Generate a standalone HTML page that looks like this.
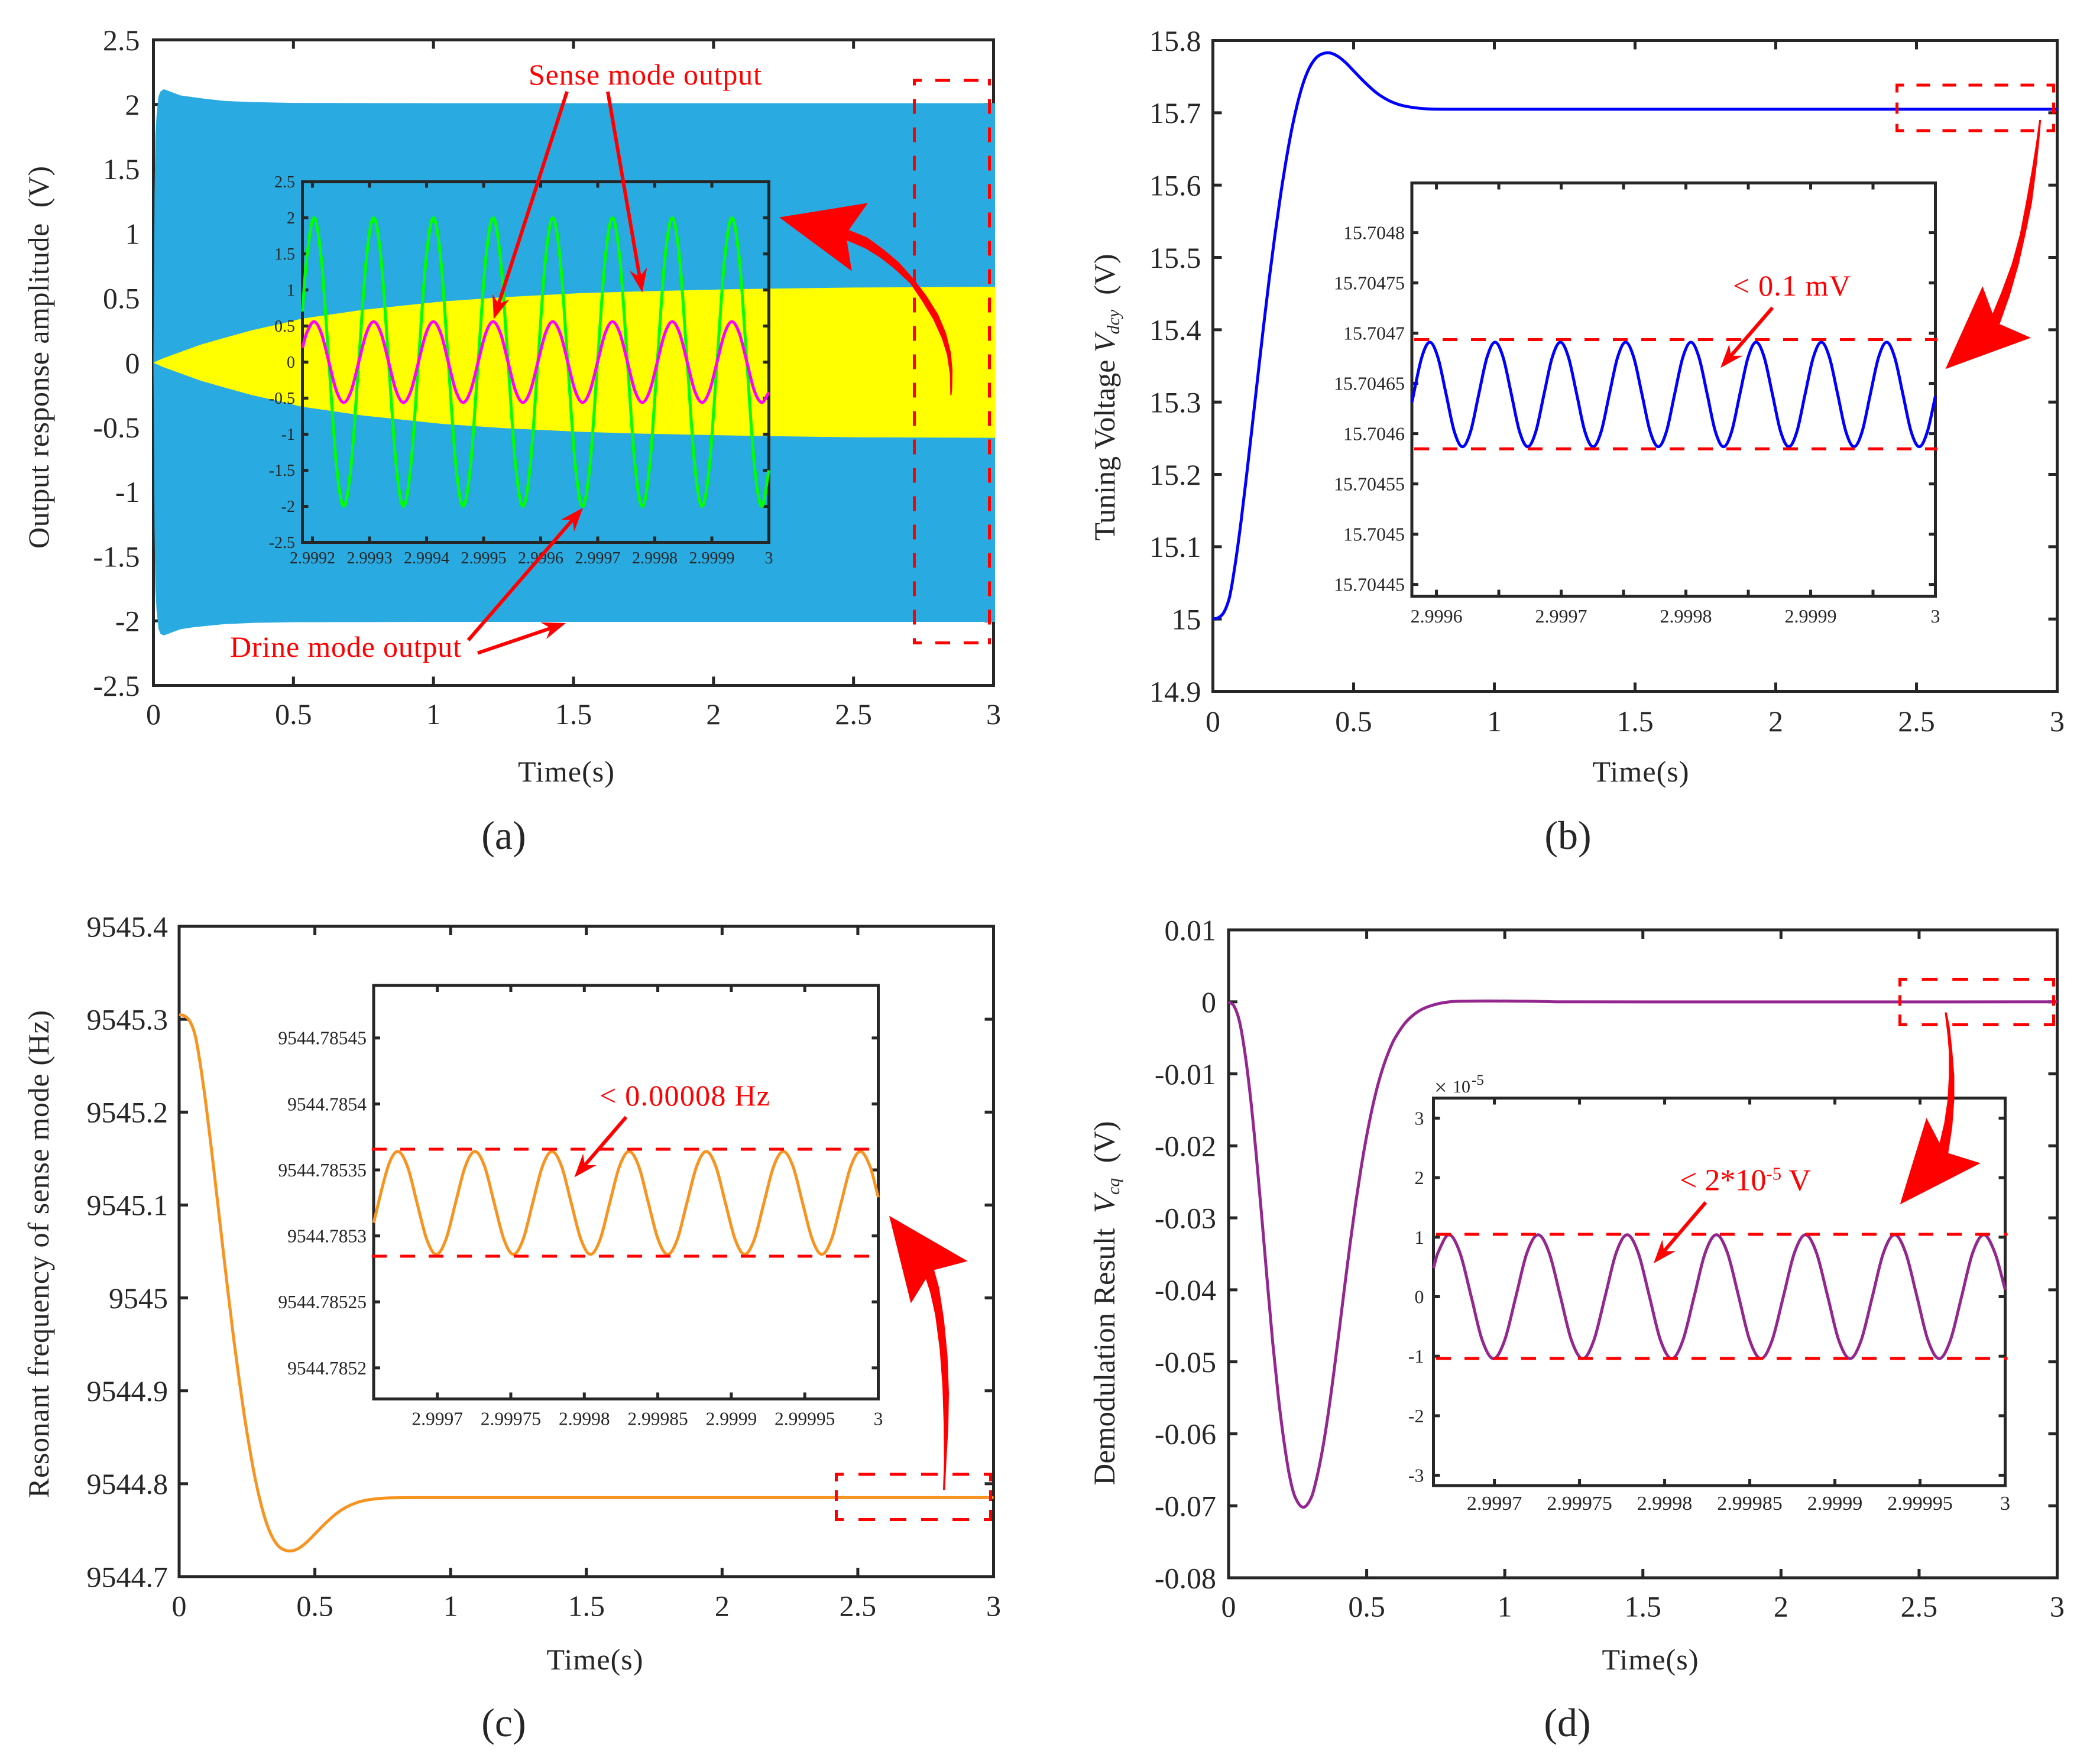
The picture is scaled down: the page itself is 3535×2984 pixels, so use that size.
<!DOCTYPE html>
<html lang="en">
<head>
<meta charset="utf-8">
<title>Simulation results of tuning and demodulation</title>
<style>
html,body{margin:0;padding:0;background:#fff;}
svg{display:block;font-family:"Liberation Serif","Times New Roman",serif;}
text{white-space:pre;}
.ttl{font-size:50px;fill:#262626;}
.red{font-size:50px;fill:#ff0000;}
.cap{font-size:68px;fill:#262626;text-anchor:middle;}
.dash{stroke:#ff0000;stroke-width:5;fill:none;}
.fat{fill:#ff0000;stroke:none;}
</style>
</head>
<body>
<svg id="fig" xmlns="http://www.w3.org/2000/svg" width="3535" height="2984" viewBox="0 0 3535 2984">
  <rect x="0" y="0" width="3535" height="2984" fill="#fff"/>

  <!-- PANEL A -->
  <g>
    <g id="a-main"></g>
    <g>
      <line class="dash" x1="1546.5" y1="133.5" x2="1546.5" y2="1090" stroke-dasharray="25 23" stroke-dashoffset="14"/>
      <line class="dash" x1="1673.5" y1="133.5" x2="1673.5" y2="1090" stroke-dasharray="25 23" stroke-dashoffset="14"/>
      <line class="dash" x1="1544" y1="136" x2="1676" y2="136" stroke-dasharray="25 23" stroke-dashoffset="10"/>
      <line class="dash" x1="1544" y1="1087.5" x2="1676" y2="1087.5" stroke-dasharray="25 23" stroke-dashoffset="10"/>
    </g>
    <g id="a-inset"></g>
    <text class="ttl" x="957.5" y="1322" text-anchor="middle" textLength="163">Time(s)</text>
    <text class="ttl" transform="translate(82 604.5) rotate(-90)" text-anchor="middle" textLength="647">Output response amplitude  (V)</text>
    <text class="red" x="894" y="143" textLength="394">Sense mode output</text>
    <text class="red" x="389" y="1111" textLength="391">Drine mode output</text>
    <polygon class="fat" transform="translate(1250 260) scale(.33333)" points="204,323 654,250 557,387 650,425 735,487 810,550 890,640 950,720 1010,815 1050,910 1075,1010 1083,1100 1081,1200 1078,1225 1072,1225 1070,1120 1055,1020 1030,940 985,840 930,750 870,660 790,585 720,530 640,480 547,440 572,596"/>
    <text class="cap" x="852" y="1436">(a)</text>
  </g>

  <!-- PANEL B -->
  <g>
    <g id="b-main"></g>
    <g>
      <line class="dash" x1="3208.5" y1="141.5" x2="3208.5" y2="223.5" stroke-dasharray="19 17" stroke-dashoffset="4"/>
      <line class="dash" x1="3473.5" y1="141.5" x2="3473.5" y2="223.5" stroke-dasharray="19 17" stroke-dashoffset="4"/>
      <line class="dash" x1="3206" y1="144" x2="3476" y2="144" stroke-dasharray="23 21" stroke-dashoffset="8.5"/>
      <line class="dash" x1="3206" y1="221" x2="3476" y2="221" stroke-dasharray="23 21" stroke-dashoffset="8.5"/>
    </g>
    <g id="b-inset"></g>
    <line class="dash" x1="2388" y1="574.5" x2="3277" y2="574.5" stroke-dasharray="25 23" stroke-dashoffset="44"/>
    <line class="dash" x1="2388" y1="759.3" x2="3277" y2="759.3" stroke-dasharray="25 23" stroke-dashoffset="44"/>
    <text class="ttl" x="2775" y="1322" text-anchor="middle" textLength="163">Time(s)</text>
    <text class="ttl" transform="translate(1885 672) rotate(-90)" text-anchor="middle">Tuning Voltage <tspan font-style="italic">V</tspan><tspan font-style="italic" font-size="30" dy="8">dcy</tspan><tspan dy="-8">  (V)</tspan></text>
    <text class="red" x="2931" y="500" textLength="199">&lt; 0.1 mV</text>
    <polygon class="fat" transform="translate(3000 100) scale(.3413 .35714)" points="851,1468 1035,1076 1085,1205 1130,1100 1180,970 1220,830 1250,680 1280,520 1300,400 1316,288 1325,288 1315,400 1300,530 1280,680 1250,820 1215,970 1170,1120 1120,1255 1275,1320"/>
    <text class="cap" x="2652" y="1436">(b)</text>
  </g>

  <!-- PANEL C -->
  <g>
    <g id="c-main"></g>
    <g>
      <line class="dash" x1="1414.5" y1="2491.5" x2="1414.5" y2="2573" stroke-dasharray="18 15" stroke-dashoffset="3.5"/>
      <line class="dash" x1="1675.5" y1="2491.5" x2="1675.5" y2="2573" stroke-dasharray="18 15" stroke-dashoffset="3.5"/>
      <line class="dash" x1="1412" y1="2494" x2="1678" y2="2494" stroke-dasharray="28 25" stroke-dashoffset="13"/>
      <line class="dash" x1="1412" y1="2570.5" x2="1678" y2="2570.5" stroke-dasharray="28 25" stroke-dashoffset="13"/>
    </g>
    <g id="c-inset"></g>
    <line class="dash" x1="629" y1="1944" x2="1478" y2="1944" stroke-dasharray="25 23"/>
    <line class="dash" x1="629" y1="2125" x2="1472" y2="2125" stroke-dasharray="25 23"/>
    <text class="ttl" x="1006" y="2824" text-anchor="middle" textLength="163">Time(s)</text>
    <text class="ttl" transform="translate(82 2121.5) rotate(-90)" text-anchor="middle" textLength="825">Resonant frequency of sense mode (Hz)</text>
    <text class="red" x="1014" y="1870" textLength="288">&lt; 0.00008 Hz</text>
    <polygon class="fat" transform="translate(1380 1950) scale(.33333 .4149)" points="372,257 770,442 600,478 625,550 650,680 668,830 675,980 672,1120 662,1260 655,1375 645,1375 650,1260 648,1100 642,950 628,800 605,660 580,570 558,515 482,614"/>
    <text class="cap" x="852" y="2937">(c)</text>
  </g>

  <!-- PANEL D -->
  <g>
    <g id="d-main"></g>
    <g>
      <line class="dash" x1="3213.5" y1="1654" x2="3213.5" y2="1736" stroke-dasharray="18 14.7" stroke-dashoffset="3.3"/>
      <line class="dash" x1="3473.5" y1="1654" x2="3473.5" y2="1736" stroke-dasharray="18 14.7" stroke-dashoffset="3.3"/>
      <line class="dash" x1="3211" y1="1656.5" x2="3476" y2="1656.5" stroke-dasharray="26.6 25" stroke-dashoffset="12"/>
      <line class="dash" x1="3211" y1="1733.5" x2="3476" y2="1733.5" stroke-dasharray="26.6 25" stroke-dashoffset="12"/>
    </g>
    <g id="d-inset"></g>
    <line class="dash" x1="2429" y1="2088" x2="3395.5" y2="2088" stroke-dasharray="25 23"/>
    <line class="dash" x1="2429" y1="2298" x2="3395.5" y2="2298" stroke-dasharray="25 23"/>
    <g fill="#262626">
      <text x="2426" y="1852" font-size="38">×</text>
      <text x="2457" y="1848" font-size="30">10</text>
      <text x="2489" y="1835" font-size="25">-5</text>
    </g>
    <text class="ttl" x="2791" y="2824" text-anchor="middle" textLength="163">Time(s)</text>
    <text class="ttl" style="font-size:51px" transform="translate(1885 2204.5) rotate(-90)" text-anchor="middle">Demodulation Result  <tspan font-style="italic">V</tspan><tspan font-style="italic" font-size="30" dy="8">cq</tspan><tspan dy="-8">  (V)</tspan></text>
    <text class="red" style="font-size:52px" x="2841" y="2013.5">&lt; 2*10<tspan font-size="31" dy="-18">-5</tspan><tspan dy="18"> V</tspan></text>
    <polygon class="fat" transform="translate(3000 1620) scale(.3413 .33333)" points="626,1252 757,813 822,940 845,840 862,720 868,600 868,480 862,400 848,278 858,278 872,350 885,470 895,600 895,720 885,860 865,992 1025,1043"/>
    <text class="cap" x="2651" y="2937">(d)</text>
  </g>

  <g id="thin-arrows"></g>
</svg>

<script>
/* ---------- shared axis data ---------- */
const mainXTicks = [0, 0.5, 1, 1.5, 2, 2.5, 3];
const mainXLabels = ['0', '0.5', '1', '1.5', '2', '2.5', '3'];

/* ---------- panel (a) main: envelopes ---------- */
const aYTicks = [-2.5, -2, -1.5, -1, -0.5, 0, 0.5, 1, 1.5, 2, 2.5];
const aYLabels = ['-2.5', '-2', '-1.5', '-1', '-0.5', '0', '0.5', '1', '1.5', '2', '2.5'];
const driveTime = [0, 0.002, 0.004, 0.007, 0.011, 0.018, 0.025, 0.037, 0.065, 0.096, 0.14, 0.185, 0.255, 0.36, 0.5, 1, 3];
const driveUpper = [0, 0.6, 1.3, 1.75, 1.91, 2.06, 2.1, 2.118, 2.096, 2.07, 2.057, 2.044, 2.027, 2.018, 2.012, 2.01, 2.01];
const driveLower = [0, -0.6, -1.3, -1.75, -1.91, -2.06, -2.1, -2.113, -2.09, -2.065, -2.05, -2.04, -2.025, -2.015, -2.01, -2.008, -2.008];
const senseTime = [0, 0.03, 0.08, 0.17, 0.25, 0.35, 0.465, 0.527, 0.75, 1.03, 1.25, 1.52, 1.75, 2.09, 2.5, 3];
const senseUpper = [0, 0.03, 0.07, 0.14, 0.19, 0.25, 0.306, 0.34, 0.41, 0.474, 0.507, 0.538, 0.553, 0.57, 0.582, 0.588];
const senseLower = [0, -0.03, -0.07, -0.14, -0.19, -0.25, -0.306, -0.34, -0.41, -0.474, -0.507, -0.535, -0.55, -0.565, -0.578, -0.582];

/* ---------- panel (a) inset ---------- */
const aInsetXTicks = [2.9992, 2.9993, 2.9994, 2.9995, 2.9996, 2.9997, 2.9998, 2.9999, 3];
const aInsetXLabels = ['2.9992', '2.9993', '2.9994', '2.9995', '2.9996', '2.9997', '2.9998', '2.9999', '3'];
const aInsetTime = [2.9991824, 2.9991895,
  2.9992026, 2.9992157, 2.9992288, 2.9992418, 2.9992549, 2.9992680, 2.9992811, 2.9992942,
  2.9993073, 2.9993204, 2.9993335, 2.9993465, 2.9993596, 2.9993727, 2.9993858, 2.9993989,
  2.9994119, 2.9994250, 2.9994381, 2.9994511, 2.9994642, 2.9994773, 2.9994904, 2.9995035,
  2.9995166, 2.9995297, 2.9995428, 2.9995558, 2.9995689, 2.9995820, 2.9995951, 2.9996082,
  2.9996212, 2.9996343, 2.9996474, 2.9996604, 2.9996735, 2.9996866, 2.9996997, 2.9997128,
  2.9997259, 2.9997390, 2.9997521, 2.9997651, 2.9997782, 2.9997913, 2.9998044, 2.9998175,
  2.9998306, 2.9998437, 2.9998568, 2.9998698, 2.9998829, 2.9998960, 2.9999091, 2.9999222,
  2.9999352, 2.9999483, 2.9999614, 2.9999744, 2.9999875, 3];
const aInsetDrive = [0.7, 1.414,
  2, 1.414, 0, -1.414, -2, -1.414, 0, 1.414,
  2, 1.414, 0, -1.414, -2, -1.414, 0, 1.414,
  2, 1.414, 0, -1.414, -2, -1.414, 0, 1.414,
  2, 1.414, 0, -1.414, -2, -1.414, 0, 1.414,
  2, 1.414, 0, -1.414, -2, -1.414, 0, 1.414,
  2, 1.414, 0, -1.414, -2, -1.414, 0, 1.414,
  2, 1.414, 0, -1.414, -2, -1.414, 0, 1.414,
  2, 1.414, 0, -1.414, -2, -1.5];
const aInsetSense = [0.196, 0.396,
  0.56, 0.396, 0, -0.396, -0.56, -0.396, 0, 0.396,
  0.56, 0.396, 0, -0.396, -0.56, -0.396, 0, 0.396,
  0.56, 0.396, 0, -0.396, -0.56, -0.396, 0, 0.396,
  0.56, 0.396, 0, -0.396, -0.56, -0.396, 0, 0.396,
  0.56, 0.396, 0, -0.396, -0.56, -0.396, 0, 0.396,
  0.56, 0.396, 0, -0.396, -0.56, -0.396, 0, 0.396,
  0.56, 0.396, 0, -0.396, -0.56, -0.396, 0, 0.396,
  0.56, 0.396, 0, -0.396, -0.56, -0.42];

/* ---------- panel (b) ---------- */
const bYTicks = [14.9, 15, 15.1, 15.2, 15.3, 15.4, 15.5, 15.6, 15.7, 15.8];
const bYLabels = ['14.9', '15', '15.1', '15.2', '15.3', '15.4', '15.5', '15.6', '15.7', '15.8'];
const bTime = [0, 0.02, 0.04, 0.06, 0.08, 0.1, 0.12, 0.14, 0.16, 0.18, 0.2, 0.22, 0.24, 0.26, 0.28, 0.3, 0.32, 0.34, 0.36, 0.38, 0.41, 0.44, 0.47, 0.5, 0.54, 0.58, 0.62, 0.66, 0.7, 0.76, 0.85, 1, 3];
const bVoltage = [15, 15.002, 15.01, 15.032, 15.078, 15.135, 15.2, 15.268, 15.337, 15.405, 15.47, 15.53, 15.585, 15.634, 15.677, 15.712, 15.74, 15.76, 15.773, 15.78, 15.783, 15.779, 15.77, 15.758, 15.742, 15.728, 15.718, 15.7115, 15.708, 15.7055, 15.705, 15.705, 15.705];
const bInsetXTicks = [2.9996, 2.99965, 2.9997, 2.99975, 2.9998, 2.99985, 2.9999, 2.99995, 3];
const bInsetXLabels = ['2.9996', '', '2.9997', '', '2.9998', '', '2.9999', '', '3'];
const bInsetYTicks = [15.70445, 15.7045, 15.70455, 15.7046, 15.70465, 15.7047, 15.70475, 15.7048];
const bInsetYLabels = ['15.70445', '15.7045', '15.70455', '15.7046', '15.70465', '15.7047', '15.70475', '15.7048'];
const bInsetTime = [2.9995803, 2.9995882,
  2.9995947, 2.9996012, 2.9996078, 2.9996143, 2.9996209, 2.9996274, 2.9996339, 2.9996405,
  2.9996470, 2.9996535, 2.9996601, 2.9996666, 2.9996732, 2.9996797, 2.9996862, 2.9996928,
  2.9996994, 2.9997059, 2.9997125, 2.9997190, 2.9997256, 2.9997321, 2.9997386, 2.9997452,
  2.9997517, 2.9997582, 2.9997648, 2.9997713, 2.9997779, 2.9997844, 2.9997909, 2.9997975,
  2.9998040, 2.9998105, 2.9998171, 2.9998236, 2.9998302, 2.9998367, 2.9998432, 2.9998498,
  2.9998563, 2.9998628, 2.9998694, 2.9998759, 2.9998825, 2.9998890, 2.9998955, 2.9999021,
  2.9999086, 2.9999151, 2.9999217, 2.9999282, 2.9999348, 2.9999413, 2.9999478, 2.9999544,
  2.9999609, 2.9999674, 2.9999740, 2.9999805, 2.9999871, 2.9999936, 3];
const bInsetVoltage = [15.704631, 15.7046758,
  15.704691, 15.7046758, 15.704639, 15.7046022, 15.704587, 15.7046022, 15.704639, 15.7046758,
  15.704691, 15.7046758, 15.704639, 15.7046022, 15.704587, 15.7046022, 15.704639, 15.7046758,
  15.704691, 15.7046758, 15.704639, 15.7046022, 15.704587, 15.7046022, 15.704639, 15.7046758,
  15.704691, 15.7046758, 15.704639, 15.7046022, 15.704587, 15.7046022, 15.704639, 15.7046758,
  15.704691, 15.7046758, 15.704639, 15.7046022, 15.704587, 15.7046022, 15.704639, 15.7046758,
  15.704691, 15.7046758, 15.704639, 15.7046022, 15.704587, 15.7046022, 15.704639, 15.7046758,
  15.704691, 15.7046758, 15.704639, 15.7046022, 15.704587, 15.7046022, 15.704639, 15.7046758,
  15.704691, 15.7046758, 15.704639, 15.7046022, 15.704587, 15.7046022, 15.7046372];

/* ---------- panel (c) ---------- */
const cYTicks = [9544.7, 9544.8, 9544.9, 9545, 9545.1, 9545.2, 9545.3, 9545.4];
const cYLabels = ['9544.7', '9544.8', '9544.9', '9545', '9545.1', '9545.2', '9545.3', '9545.4'];
const cTime = [0, 0.02, 0.04, 0.06, 0.08, 0.1, 0.12, 0.14, 0.16, 0.18, 0.2, 0.22, 0.24, 0.26, 0.28, 0.3, 0.32, 0.34, 0.36, 0.38, 0.41, 0.44, 0.47, 0.5, 0.54, 0.58, 0.62, 0.66, 0.7, 0.76, 0.85, 1, 3];
const cFrequency = [9545.305, 9545.3035, 9545.2976, 9545.2814, 9545.2475, 9545.2054, 9545.1575, 9545.1073, 9545.0564, 9545.0063, 9544.9583, 9544.9141, 9544.8735, 9544.8374, 9544.8056, 9544.7798, 9544.7592, 9544.7444, 9544.7348, 9544.7297, 9544.7275, 9544.7304, 9544.7371, 9544.7459, 9544.7577, 9544.768, 9544.7754, 9544.7802, 9544.7828, 9544.7846, 9544.785, 9544.785, 9544.785];
const cInsetXTicks = [2.9997, 2.99975, 2.9998, 2.99985, 2.9999, 2.99995, 3];
const cInsetXLabels = ['2.9997', '2.99975', '2.9998', '2.99985', '2.9999', '2.99995', '3'];
const cInsetYTicks = [9544.7852, 9544.78525, 9544.7853, 9544.78535, 9544.7854, 9544.78545];
const cInsetYLabels = ['9544.7852', '9544.78525', '9544.7853', '9544.78535', '9544.7854', '9544.78545'];
const cInsetTime = [2.9996567, 2.9996665,
  2.9996731, 2.9996797, 2.9996862, 2.9996928, 2.9996993, 2.9997059, 2.9997124, 2.9997190,
  2.9997256, 2.9997322, 2.9997387, 2.9997453, 2.9997518, 2.9997584, 2.9997649, 2.9997715,
  2.9997780, 2.9997846, 2.9997911, 2.9997977, 2.9998042, 2.9998108, 2.9998173, 2.9998239,
  2.9998305, 2.9998371, 2.9998436, 2.9998502, 2.9998567, 2.9998633, 2.9998698, 2.9998764,
  2.9998829, 2.9998895, 2.9998960, 2.9999026, 2.9999091, 2.9999157, 2.9999222, 2.9999288,
  2.9999354, 2.9999420, 2.9999485, 2.9999551, 2.9999616, 2.9999682, 2.9999747, 2.9999813,
  2.9999878, 2.9999944, 3];
const cInsetFrequency = [9544.78531, 9544.7853526,
  9544.785364, 9544.7853526, 9544.785325, 9544.7852974, 9544.785286, 9544.7852974, 9544.785325, 9544.7853526,
  9544.785364, 9544.7853526, 9544.785325, 9544.7852974, 9544.785286, 9544.7852974, 9544.785325, 9544.7853526,
  9544.785364, 9544.7853526, 9544.785325, 9544.7852974, 9544.785286, 9544.7852974, 9544.785325, 9544.7853526,
  9544.785364, 9544.7853526, 9544.785325, 9544.7852974, 9544.785286, 9544.7852974, 9544.785325, 9544.7853526,
  9544.785364, 9544.7853526, 9544.785325, 9544.7852974, 9544.785286, 9544.7852974, 9544.785325, 9544.7853526,
  9544.785364, 9544.7853526, 9544.785325, 9544.7852974, 9544.785286, 9544.7852974, 9544.785325, 9544.7853526,
  9544.785364, 9544.7853526, 9544.7853293];

/* ---------- panel (d) ---------- */
const dYTicks = [-0.08, -0.07, -0.06, -0.05, -0.04, -0.03, -0.02, -0.01, 0, 0.01];
const dYLabels = ['-0.08', '-0.07', '-0.06', '-0.05', '-0.04', '-0.03', '-0.02', '-0.01', '0', '0.01'];
const dTime = [0, 0.02, 0.04, 0.06, 0.08, 0.1, 0.12, 0.14, 0.16, 0.18, 0.2, 0.22, 0.24, 0.27, 0.3, 0.32, 0.34, 0.36, 0.38, 0.4, 0.42, 0.44, 0.46, 0.48, 0.5, 0.52, 0.54, 0.56, 0.58, 0.6, 0.64, 0.68, 0.72, 0.78, 0.85, 1.07, 1.2, 3];
const dResult = [0, -0.0006, -0.0028, -0.0073, -0.0135, -0.0212, -0.0298, -0.0388, -0.0474, -0.0548, -0.0609, -0.0657, -0.0687, -0.0702, -0.0688, -0.066, -0.0622, -0.0574, -0.0518, -0.0458, -0.0396, -0.0336, -0.028, -0.023, -0.0186, -0.0148, -0.0116, -0.009, -0.0069, -0.0052, -0.0029, -0.0015, -0.0007, -0.0001, 0.0001, 0.0001, 0, 0];
const dInsetXTicks = [2.9997, 2.99975, 2.9998, 2.99985, 2.9999, 2.99995, 3];
const dInsetXLabels = ['2.9997', '2.99975', '2.9998', '2.99985', '2.9999', '2.99995', '3'];
const dInsetYTicks = [-3, -2, -1, 0, 1, 2, 3];
const dInsetYLabels = ['-3', '-2', '-1', '0', '1', '2', '3'];
const dInsetTime = [2.9996642, 2.9996668,
  2.9996733, 2.9996798, 2.9996864, 2.9996929, 2.9996995, 2.9997060, 2.9997126, 2.9997191,
  2.9997257, 2.9997322, 2.9997388, 2.9997453, 2.9997519, 2.9997584, 2.9997650, 2.9997715,
  2.9997780, 2.9997845, 2.9997911, 2.9997976, 2.9998042, 2.9998107, 2.9998173, 2.9998238,
  2.9998304, 2.9998369, 2.9998435, 2.9998500, 2.9998566, 2.9998631, 2.9998697, 2.9998762,
  2.9998827, 2.9998892, 2.9998958, 2.9999023, 2.9999089, 2.9999154, 2.9999220, 2.9999285,
  2.9999351, 2.9999416, 2.9999482, 2.9999547, 2.9999613, 2.9999678, 2.9999744, 2.9999809,
  2.9999875, 2.9999940, 3];
const dInsetResult = [0.48, 0.735,
  1.04, 0.735, 0, -0.735, -1.04, -0.735, 0, 0.735,
  1.04, 0.735, 0, -0.735, -1.04, -0.735, 0, 0.735,
  1.04, 0.735, 0, -0.735, -1.04, -0.735, 0, 0.735,
  1.04, 0.735, 0, -0.735, -1.04, -0.735, 0, 0.735,
  1.04, 0.735, 0, -0.735, -1.04, -0.735, 0, 0.735,
  1.04, 0.735, 0, -0.735, -1.04, -0.735, 0, 0.735,
  1.04, 0.735, 0.12];

/* ---------- drawing helpers ---------- */
const NS = 'http://www.w3.org/2000/svg';
const AXIS_COLOR = '#262626';

function mk(tag, attrs, parent) {
  const el = document.createElementNS(NS, tag);
  for (const k in attrs) el.setAttribute(k, attrs[k]);
  parent.appendChild(el);
  return el;
}
function scale(d0, d1, r0, r1) {
  return v => r0 + (v - d0) * (r1 - r0) / (d1 - d0);
}
/* smooth cubic Hermite path through the points, parameterised on x */
function curvePath(xs, ys) {
  const n = xs.length;
  const m = [];
  for (let i = 0; i < n; i++) {
    const a = Math.max(0, i - 1), b = Math.min(n - 1, i + 1);
    m.push((ys[b] - ys[a]) / (xs[b] - xs[a]));
  }
  let d = 'M' + xs[0].toFixed(2) + ' ' + ys[0].toFixed(2);
  for (let i = 0; i < n - 1; i++) {
    const dx = xs[i + 1] - xs[i];
    d += 'C' + (xs[i] + dx / 3).toFixed(2) + ' ' + (ys[i] + m[i] * dx / 3).toFixed(2) + ' ' +
      (xs[i + 1] - dx / 3).toFixed(2) + ' ' + (ys[i + 1] - m[i + 1] * dx / 3).toFixed(2) + ' ' +
      xs[i + 1].toFixed(2) + ' ' + ys[i + 1].toFixed(2);
  }
  return d;
}
function drawAxes(g, cfg) {
  const sx = scale(cfg.xDomain[0], cfg.xDomain[1], cfg.box[0], cfg.box[2]);
  const sy = scale(cfg.yDomain[0], cfg.yDomain[1], cfg.box[3], cfg.box[1]);
  const [x0, y0, x1, y1] = cfg.box;
  const frame = mk('rect', {x: x0, y: y0, width: x1 - x0, height: y1 - y0, fill: 'none', stroke: AXIS_COLOR, 'stroke-width': 5}, g);
  
  
  cfg.xTicks.forEach((t, i) => {
    const x = sx(t);
    const top = mk('line', {x1: x, y1: y0, x2: x, y2: y0 + cfg.tickLen, stroke: AXIS_COLOR, 'stroke-width': 5}, g);
    
    
    const bottom = mk('line', {x1: x, y1: y1, x2: x, y2: y1 - cfg.tickLen, stroke: AXIS_COLOR, 'stroke-width': 5}, g);
    
    
    if (cfg.xLabels[i]) {
      const lab = mk('text', {x: x, y: y1 + cfg.xLabelOffset, 'text-anchor': 'middle', 'font-size': cfg.xFont, fill: AXIS_COLOR}, g);
      lab.textContent = cfg.xLabels[i];
      
      
    }
  });
  cfg.yTicks.forEach((v, i) => {
    const y = sy(v);
    const left = mk('line', {x1: x0, y1: y, x2: x0 + cfg.tickLen, y2: y, stroke: AXIS_COLOR, 'stroke-width': 5}, g);
    
    
    const right = mk('line', {x1: x1, y1: y, x2: x1 - cfg.tickLen, y2: y, stroke: AXIS_COLOR, 'stroke-width': 5}, g);
    
    
    const lab = mk('text', {x: x0 - cfg.yGap, y: y + cfg.yFont * 0.345, 'text-anchor': 'end', 'font-size': cfg.yFont, fill: AXIS_COLOR}, g);
    lab.textContent = cfg.yLabels[i];
    
    
  });
  return {sx, sy};
}
function drawLine(g, axes, times, values, color, name) {
  const xs = times.map(axes.sx);
  const ys = values.map(axes.sy);
  const p = mk('path', {d: curvePath(xs, ys), fill: 'none', stroke: color, 'stroke-width': 5, 'stroke-linejoin': 'round'}, g);
  
  
  return p;
}
function drawEnvelope(g, axes, times, upper, lower, color, name) {
  const pts = [];
  const lastX = axes.sx(times[times.length - 1]);
  times.forEach((t, i) => {
    const x = i === times.length - 1 ? lastX + 2.5 : axes.sx(t);
    pts.push(x.toFixed(2) + ',' + axes.sy(upper[i]).toFixed(2));
  });
  for (let i = times.length - 1; i >= 0; i--) {
    const x = i === times.length - 1 ? lastX + 2.5 : axes.sx(times[i]);
    pts.push(x.toFixed(2) + ',' + axes.sy(lower[i]).toFixed(2));
  }
  const p = mk('polygon', {points: pts.join(' '), fill: color}, g);
  
  
}
function drawThinArrow(parent, name, x1, y1, x2, y2) {
  const len = Math.hypot(x2 - x1, y2 - y1);
  const ux = (x2 - x1) / len, uy = (y2 - y1) / len;
  const px = -uy, py = ux;
  const L = 40, HW = 15, N = 27;
  const g = mk('g', {}, parent);
  
  
  const shaft = mk('line', {x1: x1, y1: y1, x2: x2 - ux * N, y2: y2 - uy * N, stroke: '#ff0000', 'stroke-width': 6}, g);
  
  
  const pts = [
    [x2, y2],
    [x2 - ux * L + px * HW, y2 - uy * L + py * HW],
    [x2 - ux * N, y2 - uy * N],
    [x2 - ux * L - px * HW, y2 - uy * L - py * HW]
  ].map(q => q[0].toFixed(1) + ',' + q[1].toFixed(1)).join(' ');
  const head = mk('polygon', {points: pts, fill: '#ff0000'}, g);
  
  
}
const byId = id => document.getElementById(id);

/* ---------- panel (a) ---------- */
const aMainG = byId('a-main');
const aMain = drawAxes(aMainG, {box: [259.5, 67.5, 1680.5, 1159.5], xDomain: [0, 3], yDomain: [-2.5, 2.5],
  xTicks: mainXTicks, xLabels: mainXLabels, yTicks: aYTicks, yLabels: aYLabels,
  tickLen: 15, xFont: 50, yFont: 50, yGap: 23, xLabelOffset: 65.5});
drawEnvelope(aMainG, aMain, driveTime, driveUpper, driveLower, '#29ABE2', 'drive-mode-envelope');
drawEnvelope(aMainG, aMain, senseTime, senseUpper, senseLower, '#FFFF00', 'sense-mode-envelope');
const aInsetG = byId('a-inset');
const aInset = drawAxes(aInsetG, {box: [511.5, 307.5, 1300.5, 917.5], xDomain: [2.9991824, 3], yDomain: [-2.5, 2.5],
  xTicks: aInsetXTicks, xLabels: aInsetXLabels, yTicks: aYTicks, yLabels: aYLabels,
  tickLen: 10, xFont: 28, yFont: 28, yGap: 12.5, xLabelOffset: 35.5});
drawLine(aInsetG, aInset, aInsetTime, aInsetDrive, '#00FF00', 'drive-mode-inset-line');
drawLine(aInsetG, aInset, aInsetTime, aInsetSense, '#FF00FF', 'sense-mode-inset-line');

/* ---------- panel (b) ---------- */
const bMainG = byId('b-main');
const bMain = drawAxes(bMainG, {box: [2051.5, 68.5, 3479.5, 1169.5], xDomain: [0, 3], yDomain: [14.9, 15.8],
  xTicks: mainXTicks, xLabels: mainXLabels, yTicks: bYTicks, yLabels: bYLabels,
  tickLen: 15, xFont: 50, yFont: 50, yGap: 20, xLabelOffset: 67.5});
drawLine(bMainG, bMain, bTime, bVoltage, '#0000FF', 'tuning-voltage-line');
const bInsetG = byId('b-inset');
const bInset = drawAxes(bInsetG, {box: [2388, 309.5, 3273.5, 1008.6], xDomain: [2.9995803, 3], yDomain: [15.70443824, 15.70484947],
  xTicks: bInsetXTicks, xLabels: bInsetXLabels, yTicks: bInsetYTicks, yLabels: bInsetYLabels,
  tickLen: 11, xFont: 32, yFont: 32, yGap: 12, xLabelOffset: 44.4});
drawLine(bInsetG, bInset, bInsetTime, bInsetVoltage, '#0000FF', 'tuning-voltage-inset-line');

/* ---------- panel (c) ---------- */
const cMainG = byId('c-main');
const cMain = drawAxes(cMainG, {box: [303, 1567, 1680.5, 2667], xDomain: [0, 3], yDomain: [9544.7, 9545.4],
  xTicks: mainXTicks, xLabels: mainXLabels, yTicks: cYTicks, yLabels: cYLabels,
  tickLen: 15, xFont: 50, yFont: 50, yGap: 19, xLabelOffset: 66.7});
drawLine(cMainG, cMain, cTime, cFrequency, '#F7931E', 'resonant-frequency-line');
const cInsetG = byId('c-inset');
const cInset = drawAxes(cInsetG, {box: [632, 1667, 1485.5, 2366.5], xDomain: [2.9996567, 3], yDomain: [9544.78517643, 9544.7854898],
  xTicks: cInsetXTicks, xLabels: cInsetXLabels, yTicks: cInsetYTicks, yLabels: cInsetYLabels,
  tickLen: 11, xFont: 31.5, yFont: 31.5, yGap: 12, xLabelOffset: 44});
drawLine(cInsetG, cInset, cInsetTime, cInsetFrequency, '#F7931E', 'resonant-frequency-inset-line');

/* ---------- panel (d) ---------- */
const dMainG = byId('d-main');
const dMain = drawAxes(dMainG, {box: [2078, 1573, 3479.5, 2669], xDomain: [0, 3], yDomain: [-0.08, 0.01],
  xTicks: mainXTicks, xLabels: mainXLabels, yTicks: dYTicks, yLabels: dYLabels,
  tickLen: 15, xFont: 50, yFont: 50, yGap: 21, xLabelOffset: 65.5});
drawLine(dMainG, dMain, dTime, dResult, '#93278F', 'demodulation-result-line');
const dInsetG = byId('d-inset');
const dInset = drawAxes(dInsetG, {box: [2424.5, 1857.5, 3391.5, 2513], xDomain: [2.9996642, 3], yDomain: [-3.173, 3.337],
  xTicks: dInsetXTicks, xLabels: dInsetXLabels, yTicks: dInsetYTicks, yLabels: dInsetYLabels,
  tickLen: 11, xFont: 34, yFont: 32, yGap: 16, xLabelOffset: 41});
drawLine(dInsetG, dInset, dInsetTime, dInsetResult, '#93278F', 'demodulation-result-inset-line');

/* ---------- thin annotation arrows ---------- */
const arrowG = byId('thin-arrows');
drawThinArrow(arrowG, 'sense-arrow-to-inset', 959, 155, 835, 540);
drawThinArrow(arrowG, 'sense-arrow-to-envelope', 1028, 155, 1086.4, 494.8);
drawThinArrow(arrowG, 'drive-arrow-to-inset', 792, 1083, 986, 859);
drawThinArrow(arrowG, 'drive-arrow-to-envelope', 808, 1104.7, 957, 1054);
drawThinArrow(arrowG, 'ripple-arrow-b', 2998, 520.5, 2910, 622.3);
drawThinArrow(arrowG, 'ripple-arrow-c', 1059, 1889.7, 971.5, 1991.5);
drawThinArrow(arrowG, 'ripple-arrow-d', 2885, 2034, 2797, 2137);
</script>
</body>
</html>
